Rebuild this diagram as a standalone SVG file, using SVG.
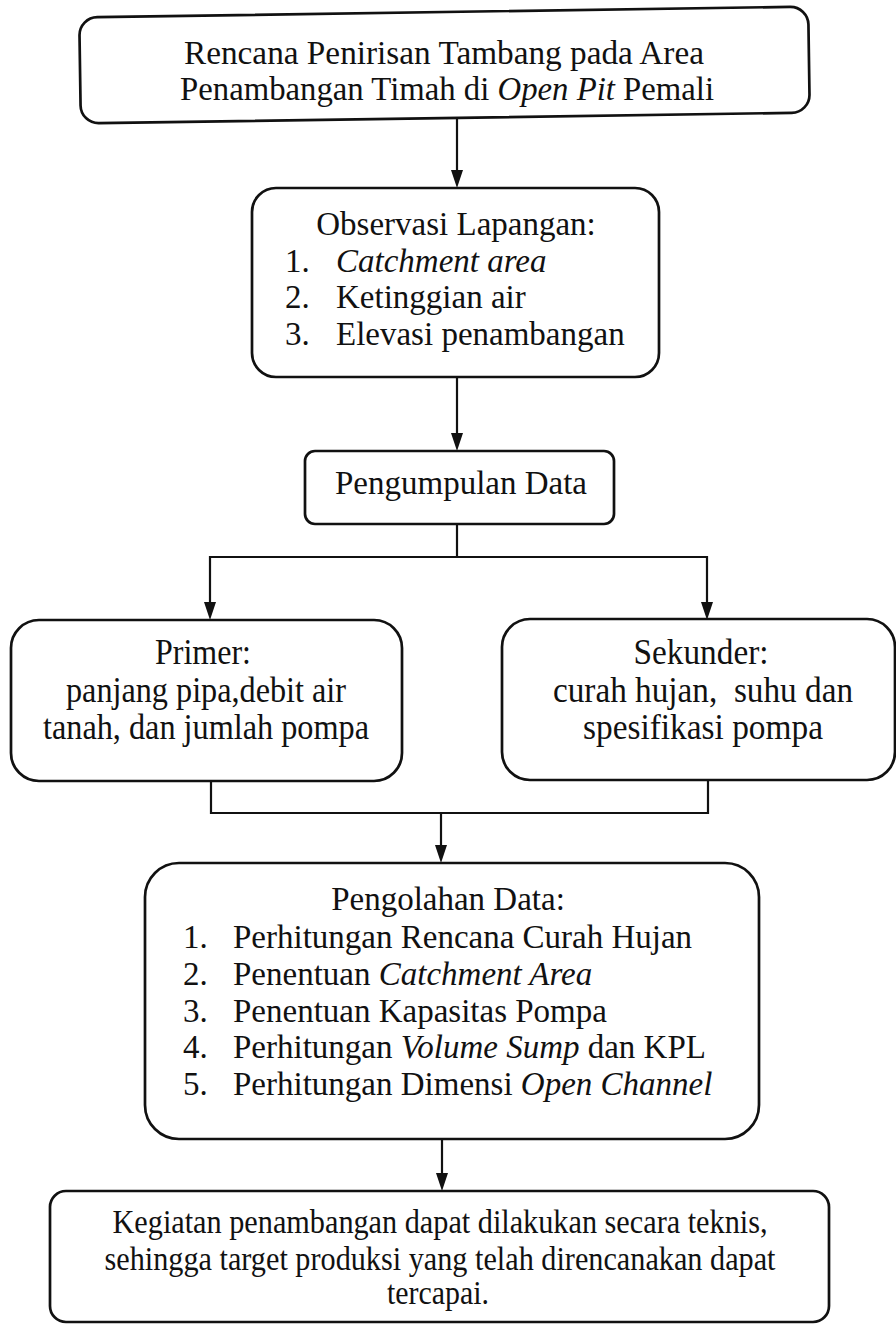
<svg xmlns="http://www.w3.org/2000/svg" width="896" height="1326" viewBox="0 0 896 1326">
<defs>
<style>
.box{fill:#fff;stroke:#111;stroke-width:2.7}
.ln{fill:none;stroke:#111;stroke-width:2.2}
.ah{fill:#111}
text{font-family:"Liberation Serif","Times New Roman",serif;fill:#111}
.t{font-size:33px}
.c{text-anchor:middle}
.i{font-style:italic}
</style>
</defs>
<rect width="896" height="1326" fill="#fff"/>

<g id="connectors">
<line class="ln" x1="457" y1="118" x2="457" y2="175"/>
<path class="ah" d="M451,170 L463,170 L457,188 Z"/>
<line class="ln" x1="457" y1="377" x2="457" y2="438"/>
<path class="ah" d="M451,433 L463,433 L457,451 Z"/>
<polyline class="ln" points="457,524 457,557"/>
<polyline class="ln" points="210,605 210,557 707,557 707,605"/>
<path class="ah" d="M204,602 L216,602 L210,620 Z"/>
<path class="ah" d="M701,602 L713,602 L707,620 Z"/>
<polyline class="ln" points="211,781 211,813 708,813 708,781"/>
<line class="ln" x1="441" y1="813" x2="441" y2="850"/>
<path class="ah" d="M435,845 L447,845 L441,863 Z"/>
<line class="ln" x1="442" y1="1139" x2="442" y2="1180"/>
<path class="ah" d="M436,1173 L448,1173 L442,1191 Z"/>
</g>

<g id="node-rencana">
<rect class="box" x="80" y="12" width="729" height="106" rx="18" transform="rotate(-0.85 444 65)"/>
<text class="c" x="444" y="64" font-size="34" textLength="520" lengthAdjust="spacingAndGlyphs">Rencana Penirisan Tambang pada Area</text>
<text class="c" x="447" y="100" font-size="34" textLength="534" lengthAdjust="spacingAndGlyphs">Penambangan Timah di <tspan class="i">Open Pit</tspan> Pemali</text>
</g>

<g id="node-observasi">
<rect class="box" x="252" y="188" width="407" height="189" rx="24"/>
<text class="t c" x="456" y="235">Observasi Lapangan:</text>
<text class="t" x="285" y="272">1.</text><text class="t i" x="336" y="272">Catchment area</text>
<text class="t" x="285" y="308">2.</text><text class="t" x="336" y="308">Ketinggian air</text>
<text class="t" x="285" y="345">3.</text><text class="t" x="336" y="345">Elevasi penambangan</text>
</g>

<g id="node-pengumpulan">
<rect class="box" x="305" y="451" width="309" height="73" rx="10"/>
<text class="t c" x="461" y="494">Pengumpulan Data</text>
</g>

<g id="node-primer">
<rect class="box" x="11" y="620" width="391" height="161" rx="28"/>
<text class="c" x="203" y="664" font-size="35" textLength="96" lengthAdjust="spacingAndGlyphs">Primer:</text>
<text class="c" x="206" y="702" font-size="35" textLength="280" lengthAdjust="spacingAndGlyphs">panjang pipa,debit air</text>
<text class="c" x="206" y="739" font-size="35" textLength="326" lengthAdjust="spacingAndGlyphs">tanah, dan jumlah pompa</text>
</g>

<g id="node-sekunder">
<rect class="box" x="502" y="619" width="393" height="161" rx="28"/>
<text class="c" x="701" y="664" font-size="35" textLength="135" lengthAdjust="spacingAndGlyphs">Sekunder:</text>
<text class="c" x="703" y="702" font-size="35" textLength="300" lengthAdjust="spacingAndGlyphs" xml:space="preserve">curah hujan,  suhu dan</text>
<text class="c" x="703" y="739" font-size="35" textLength="240" lengthAdjust="spacingAndGlyphs">spesifikasi pompa</text>
</g>

<g id="node-pengolahan">
<rect class="box" x="145" y="863" width="614" height="276" rx="34"/>
<text class="t c" x="448" y="910">Pengolahan Data:</text>
<text class="t" x="183" y="948">1.</text><text class="t" x="233" y="948">Perhitungan Rencana Curah Hujan</text>
<text class="t" x="183" y="985">2.</text><text class="t" x="233" y="985">Penentuan <tspan class="i">Catchment Area</tspan></text>
<text class="t" x="183" y="1022">3.</text><text class="t" x="233" y="1022">Penentuan Kapasitas Pompa</text>
<text class="t" x="183" y="1058">4.</text><text class="t" x="233" y="1058">Perhitungan <tspan class="i">Volume Sump</tspan> dan KPL</text>
<text class="t" x="183" y="1095">5.</text><text class="t" x="233" y="1095">Perhitungan Dimensi <tspan class="i">Open Channel</tspan></text>
</g>

<g id="node-kegiatan">
<rect class="box" x="50" y="1191" width="779" height="131" rx="16"/>
<text class="c" x="440" y="1233" font-size="34" textLength="655" lengthAdjust="spacingAndGlyphs">Kegiatan penambangan dapat dilakukan secara teknis,</text>
<text class="c" x="440" y="1270" font-size="34" textLength="671" lengthAdjust="spacingAndGlyphs">sehingga target produksi yang telah direncanakan dapat</text>
<text class="c" x="438" y="1304" font-size="34" textLength="102" lengthAdjust="spacingAndGlyphs">tercapai.</text>
</g>
</svg>
